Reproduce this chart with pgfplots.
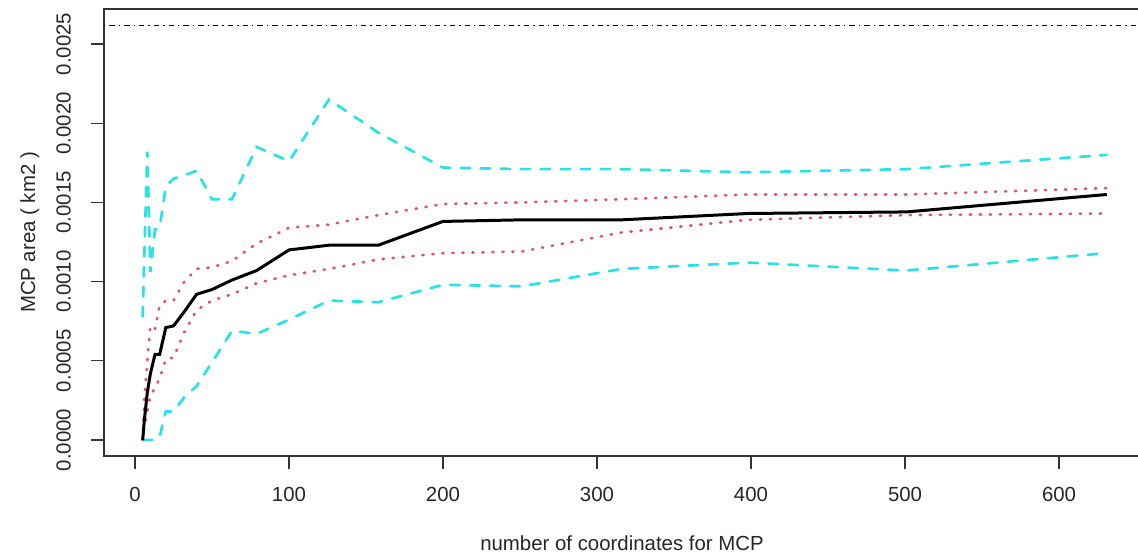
\documentclass[border=0pt]{standalone}
\usepackage{fontspec}
\setmainfont{Liberation Sans}
\usepackage{pgfplots}
\usepackage{pgfplotstable}
\pgfplotsset{compat=1.18}

\definecolor{rcyan}{HTML}{28E2E5}
\definecolor{rred}{HTML}{DF536B}

% MCP area (km2) by sample size: median, 25/75 % and 2.5/97.5 % quantiles
\pgfplotstableread{
n     med      q25      q75      q025     q975
5     0.00000  0.00000  0.00000  0.00000  0.00078
6     0.00012  0.00008  0.00025  0.00000  0.00115
8     0.00030  0.00018  0.00050  0.00000  0.00182
10    0.00042  0.00028  0.00072  0.00000  0.00106
13    0.00054  0.00033  0.00070  0.00000  0.00133
16    0.00054  0.00039  0.00085  0.00002  0.00134
20    0.00071  0.00051  0.00088  0.00018  0.00160
25    0.00072  0.00052  0.00088  0.00018  0.00165
32    0.00081  0.00068  0.00100  0.00027  0.00167
40    0.00092  0.00082  0.00108  0.00034  0.00170
50    0.00095  0.00088  0.00109  0.00049  0.00152
63    0.00101  0.00092  0.00113  0.00069  0.00152
79    0.00107  0.00099  0.00124  0.00067  0.00185
100   0.00120  0.00104  0.00134  0.00076  0.00176
126   0.00123  0.00108  0.00136  0.00088  0.00215
158   0.00123  0.00114  0.00142  0.00087  0.00194
200   0.00138  0.00118  0.00149  0.00098  0.00172
251   0.00139  0.00119  0.00150  0.00097  0.00171
316   0.00139  0.00131  0.00152  0.00108  0.00171
398   0.00143  0.00139  0.00155  0.00112  0.00169
501   0.00144  0.00142  0.00155  0.00107  0.00171
631   0.00155  0.00143  0.00159  0.00118  0.00180
}\mcpdata

\begin{document}
\begin{tikzpicture}
\clip (-52pt,-49pt) rectangle (517pt,228pt);
\begin{axis}[
  at={(0,0)}, anchor=south west,
  scale only axis, width=518pt, height=223.5pt,
  xmin=-20.13, xmax=652.6,
  ymin=-0.000101, ymax=0.002721,
  axis line style={black!80, line width=0.55pt},
  xtick={0,100,200,300,400,500,600},
  ytick={0,0.0005,0.001,0.0015,0.002,0.0025},
  xtick pos=bottom, ytick pos=left,
  tick align=outside, major tick length=6.7pt,
  tick style={black!80, line width=0.55pt},
  scaled y ticks=false,
  /pgf/number format/assume math mode=true,
  tick label style={font=\fontsize{10.2}{12}\selectfont, text=black!85},
  xticklabel shift=5.2pt,
  yticklabel shift=6.4pt,
  yticklabel style={/pgf/number format/.cd, fixed, fixed zerofill, precision=4, /tikz/.cd, rotate=90, anchor=south},
  label style={font=\fontsize{10.2}{12}\selectfont, text=black!85},
  xlabel={number of coordinates for MCP},
  ylabel={MCP area ( km2 )},
  xlabel style={at={(axis description cs:0.5,-0.1946)}, anchor=center},
  ylabel style={at={(axis description cs:-0.0716,0.5)}, anchor=center},
]
% reference level of the full MCP
\addplot[black, line width=0.5pt, dash pattern=on 0.7pt off 2pt on 2.7pt off 2pt]
  coordinates {(-20.13,0.00262) (652.6,0.00262)};
% 2.5 % and 97.5 % quantiles
\addplot[rcyan, line width=1.35pt, line cap=round, dash pattern=on 4.8pt off 5.2pt] table[x=n, y=q975] {\mcpdata};
\addplot[rcyan, line width=1.35pt, line cap=round, dash pattern=on 4.8pt off 5.2pt] table[x=n, y=q025] {\mcpdata};
% 25 % and 75 % quantiles
\addplot[rred, line width=1.35pt, line cap=round, dash pattern=on 0.6pt off 4.4pt] table[x=n, y=q75] {\mcpdata};
\addplot[rred, line width=1.35pt, line cap=round, dash pattern=on 0.6pt off 4.4pt] table[x=n, y=q25] {\mcpdata};
% median
\addplot[black, line width=1.5pt] table[x=n, y=med] {\mcpdata};
\end{axis}
\end{tikzpicture}
\end{document}
